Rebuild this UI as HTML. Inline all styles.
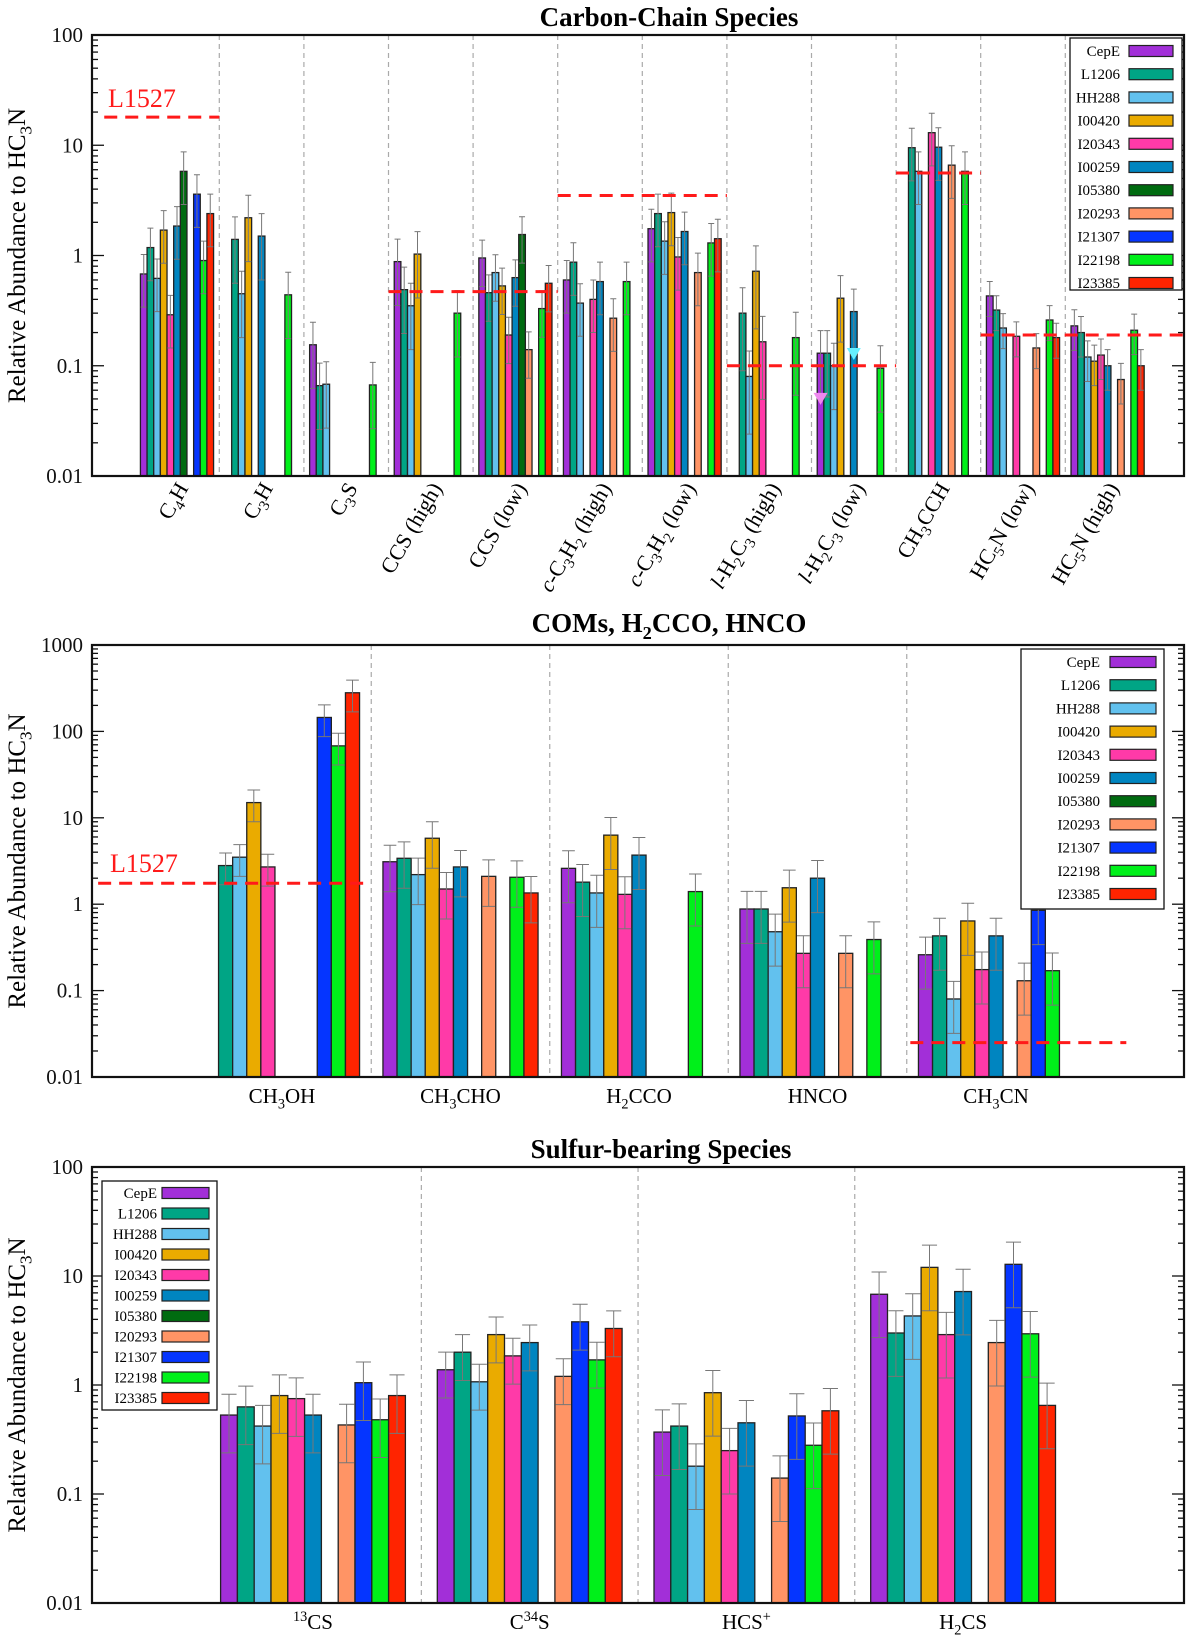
<!DOCTYPE html>
<html><head><meta charset="utf-8"><style>
html,body{margin:0;padding:0;background:#fff;}
svg{display:block;font-family:"Liberation Serif","DejaVu Serif",serif;}
</style></head><body>
<svg id="fig" width="1200" height="1640" viewBox="0 0 1200 1640" xmlns="http://www.w3.org/2000/svg">
<rect x="0" y="0" width="1200" height="1640" fill="#fff"/>
</svg>
<script>
const sources = ['CepE','L1206','HH288','I00420','I20343','I00259','I05380','I20293','I21307','I22198','I23385'];
const colors = ['#a22fd8','#00a585','#62c1ee','#eaab00','#ff3aa8','#0085c0','#006b10','#ff9465','#0535ff','#00f01a','#ff2400'];

// Panel 1: Carbon-chain species
const carbonCats = ['C_{4}H','C_{3}H','C_{3}S','CCS (high)','CCS (low)','~{c}-C_{3}H_{2} (high)','~{c}-C_{3}H_{2} (low)','~{l}-H_{2}C_{3} (high)','~{l}-H_{2}C_{3} (low)','CH_{3}CCH','HC_{5}N (low)','HC_{5}N (high)'];
const carbonValues = [
 [0.68,1.18,0.62,1.7,0.29,1.85,5.8,null,3.6,0.9,2.4],
 [null,1.4,0.45,2.2,null,1.5,null,null,null,0.44,null],
 [0.155,0.066,0.068,null,null,null,null,null,null,0.067,null],
 [0.88,0.49,0.35,1.03,null,null,null,null,null,0.30,null],
 [0.95,0.46,0.70,0.53,0.19,0.63,1.55,0.14,null,0.33,0.56],
 [0.6,0.87,0.37,null,0.4,0.58,null,0.27,null,0.58,null],
 [1.75,2.4,1.35,2.45,0.97,1.65,null,0.7,null,1.3,1.42],
 [null,0.3,0.08,0.72,0.165,null,null,null,null,0.18,null],
 [0.13,0.13,0.1,0.41,null,0.31,null,null,null,0.095,null],
 [null,9.5,5.8,null,13,9.6,null,6.6,null,5.8,null],
 [0.43,0.32,0.22,null,0.185,null,null,0.145,null,0.26,0.18],
 [0.23,0.2,0.12,0.11,0.125,0.1,null,0.075,null,0.21,0.1]
];
const carbonErr = [0.5,0.6,0.6,0.6,0.45,0.5,0.5,0.7,0.6,0.5,0.35,0.4];
const carbonRefVals = [18,0.47,3.5,0.1,5.6,0.19];
const carbonRefFrom = [-0.86,2.5,4.5,6.5,8.5,9.5];
const carbonRefTo = [0.5,4.5,6.5,8.5,9.5,11.9];
const triCats = [8,8];
const triSrcs = [0,5];
const triVals = [0.047,0.12];
const triColors = ['#ee88ee','#66f0ff'];

// Panel 2: COMs
const comCats = ['CH_{3}OH','CH_{3}CHO','H_{2}CCO','HNCO','CH_{3}CN'];
const comValues = [
 [null,2.8,3.5,15,2.7,null,null,null,145,68,280],
 [3.1,3.4,2.2,5.8,1.5,2.7,null,2.1,null,2.05,1.35],
 [2.6,1.8,1.35,6.3,1.3,3.7,null,null,null,1.4,null],
 [0.88,0.88,0.48,1.55,0.27,2.0,null,0.27,null,0.39,null],
 [0.26,0.43,0.08,0.64,0.175,0.43,null,0.13,0.85,0.17,null]
];
const comErr = [0.4,0.55,0.6,0.6,0.6];
const comRefVals = [1.75,0.025];
const comRefFrom = [-1.03,3.52];
const comRefTo = [0.48,4.73];

// Panel 3: Sulfur-bearing
const sulCats = ['^{13}CS','C^{34}S','HCS^{+}','H_{2}CS'];
const sulValues = [
 [0.53,0.63,0.42,0.8,0.75,0.53,null,0.43,1.05,0.48,0.8],
 [1.38,2.0,1.07,2.9,1.85,2.45,null,1.2,3.8,1.7,3.3],
 [0.37,0.42,0.18,0.85,0.25,0.45,null,0.14,0.52,0.28,0.58],
 [6.8,3.0,4.3,12,2.9,7.2,null,2.45,12.8,2.95,0.65]
];
const sulErr = [0.55,0.45,0.6,0.6];

const yTickLabels1 = ['0.01','0.1','1','10','100'];
const yTickLabels2 = ['0.01','0.1','1','10','100','1000'];

const NS='http://www.w3.org/2000/svg';
const fig=document.getElementById('fig');
function mk(tag,attrs,parent){const e=document.createElementNS(NS,tag);for(const k in attrs)e.setAttribute(k,attrs[k]);(parent||fig).appendChild(e);return e;}

function richText(el,str,fs){
  const re=/(_\{[^}]*\}|\^\{[^}]*\}|~\{[^}]*\}|[^_^~]+)/g;let m;let shift=0;
  while((m=re.exec(str))){
    const t=m[0];const ts=document.createElementNS(NS,'tspan');
    let dy=0;
    if(t[0]==='_'){ts.textContent=t.slice(2,-1);ts.setAttribute('font-size',fs*0.68);dy=fs*0.25;}
    else if(t[0]==='^'){ts.textContent=t.slice(2,-1);ts.setAttribute('font-size',fs*0.68);dy=-fs*0.38;}
    else if(t[0]==='~'){ts.textContent=t.slice(2,-1);ts.setAttribute('font-style','italic');}
    else{ts.textContent=t;}
    ts.setAttribute('dy',dy-shift);shift=dy;
    el.appendChild(ts);
  }
}

function panel(cfg){
  const g=mk('g',{});
  
  
  const L=cfg.left,R=cfg.right,T=cfg.top,B=cfg.bottom;
  const y=v=>B-(Math.log10(v)-cfg.lmin)/(cfg.lmax-cfg.lmin)*(B-T);
  const x=i=>cfg.c0+i*cfg.sp;
  const bw=cfg.bw;
  // title
  const tt=mk('text',{x:cfg.titleX,y:cfg.titleY,'text-anchor':'middle','font-size':27,'font-weight':'bold'},g);
  richText(tt,cfg.title,27);
  
  
  // dividers
  for(let i=0;i<cfg.cats.length-1;i++){
    const l=mk('line',{x1:x(i+0.5),x2:x(i+0.5),y1:T,y2:B,stroke:'#aaa','stroke-width':1.2,'stroke-dasharray':'5,4'},g);
    
    
  }
  // bars
  cfg.vals.forEach((arr,i)=>{
    arr.forEach((v,j)=>{
      if(v==null)return;
      const bx=x(i)-5.5*bw+j*bw;
      const r=mk('rect',{x:bx,y:y(v),width:bw,height:B-y(v),fill:colors[j],stroke:'#222','stroke-width':1.3},g);
      
      
      const f=cfg.err[i];const cx=bx+bw/2;
      const hi=y(v*(1+f)),lo=y(Math.max(v*(1-f),Math.pow(10,cfg.lmin)));
      const e=mk('path',{d:`M${cx},${hi}V${lo}M${cx-bw*0.45},${hi}H${cx+bw*0.45}M${cx-bw*0.45},${lo}H${cx+bw*0.45}`,stroke:'#777','stroke-width':1,fill:'none'},g);
      
      
    });
  });
  // triangles
  if(cfg.tri){
    cfg.tri.cats.forEach((c,k)=>{
      const cx=x(c)-5.5*bw+cfg.tri.srcs[k]*bw+bw/2;const ty=y(cfg.tri.vals[k]);
      const p=mk('path',{d:`M${cx-7},${ty-9}H${cx+7}L${cx},${ty+3}Z`,fill:cfg.tri.colors[k]},g);
      
      
    });
  }
  // ref lines
  cfg.refVals.forEach((v,k)=>{
    const l=mk('line',{x1:x(cfg.refFrom[k]),x2:x(cfg.refTo[k]),y1:y(v),y2:y(v),stroke:'#ff1a1a','stroke-width':3,'stroke-dasharray':'13,8'},g);
    
    
  });
  if(cfg.refLabel){
    const t=mk('text',{x:cfg.refLabel[0],y:cfg.refLabel[1],'font-size':26,fill:'#ff1a1a'},g);
    t.textContent='L1527';
    
    
  }
  // ticks
  const ticks=mk('g',{stroke:'#111','stroke-width':1.3},g);
  
  
  for(let d=cfg.lmin;d<=cfg.lmax;d++){
    const yy=y(Math.pow(10,d));
    mk('line',{x1:L,x2:L+12,y1:yy,y2:yy},ticks);mk('line',{x1:R,x2:R-12,y1:yy,y2:yy},ticks);
    const lab=mk('text',{x:L-9,y:yy+7,'text-anchor':'end','font-size':21,stroke:'none',fill:'#111'},g);
    lab.textContent=cfg.ytl[d-cfg.lmin];
    
    
    if(d<cfg.lmax)for(let m=2;m<10;m++){const ym=y(m*Math.pow(10,d));mk('line',{x1:L,x2:L+6,y1:ym,y2:ym},ticks);mk('line',{x1:R,x2:R-6,y1:ym,y2:ym},ticks);}
  }
  // frame
  const fr=mk('rect',{x:L,y:T,width:R-L,height:B-T,fill:'none',stroke:'#111','stroke-width':2.2},g);
  
  
  // y title
  const yt=mk('text',{transform:`translate(25,${(T+B)/2}) rotate(-90)`,'text-anchor':'middle','font-size':25},g);
  richText(yt,'Relative Abundance to HC_{3}N',25);
  
  
  // x labels
  cfg.cats.forEach((c,i)=>{
    let t;
    if(cfg.rot){t=mk('text',{transform:`translate(${x(i)+12},${B+12}) rotate(-60)`,'text-anchor':'end','font-size':22},g);}
    else{t=mk('text',{x:x(i),y:B+26,'text-anchor':'middle','font-size':21},g);}
    richText(t,c,cfg.rot?22:21);
    
    
  });
  // legend
  const lg=cfg.legend;
  const lgG=mk('g',{},g);
  
  
  mk('rect',{x:lg.x,y:lg.y,width:lg.w,height:lg.h,fill:'#fff',stroke:'#111','stroke-width':1.3},lgG);
  sources.forEach((s,j)=>{
    const cy=lg.y0+j*lg.dy;
    const t=mk('text',{x:lg.tx,y:cy+5,'text-anchor':'end','font-size':15},lgG);
    t.textContent=s;
    
    
    const r=mk('rect',{x:lg.sx,y:cy-5.5,width:lg.sw,height:11,fill:colors[j],stroke:'#222','stroke-width':1.2},lgG);
    
    
  });
}

panel({name:'carbon-chain-panel',title:'Carbon-Chain Species',titleX:669,titleY:26,left:92,right:1184,top:35,bottom:476,lmin:-2,lmax:2,ytl:yTickLabels1,
  c0:177,sp:84.6,bw:6.65,cats:carbonCats,vals:carbonValues,err:carbonErr,rot:true,
  refVals:carbonRefVals,refFrom:carbonRefFrom,refTo:carbonRefTo,refLabel:[108,107],
  tri:{cats:triCats,srcs:triSrcs,vals:triVals,colors:triColors},
  legend:{x:1070,y:38,w:112,h:252,y0:51,dy:23.2,tx:1120,sx:1129,sw:44}});
panel({name:'coms-panel',title:'COMs, H_{2}CCO, HNCO',titleX:669,titleY:632,left:92,right:1184,top:645,bottom:1077,lmin:-2,lmax:3,ytl:yTickLabels2,
  c0:282,sp:178.5,bw:14.1,cats:comCats,vals:comValues,err:comErr,rot:false,
  refVals:comRefVals,refFrom:comRefFrom,refTo:comRefTo,refLabel:[110,872],
  legend:{x:1021,y:649,w:143,h:260,y0:662,dy:23.2,tx:1100,sx:1110,sw:46}});
panel({name:'sulfur-panel',title:'Sulfur-bearing Species',titleX:661,titleY:1158,left:92,right:1184,top:1167,bottom:1603,lmin:-2,lmax:2,ytl:yTickLabels1,
  c0:313,sp:216.7,bw:16.8,cats:sulCats,vals:sulValues,err:sulErr,rot:false,
  refVals:[],refFrom:[],refTo:[],refLabel:null,
  legend:{x:102,y:1181,w:115,h:229,y0:1193,dy:20.5,tx:157,sx:162,sw:47}});
</script>
</body></html>
